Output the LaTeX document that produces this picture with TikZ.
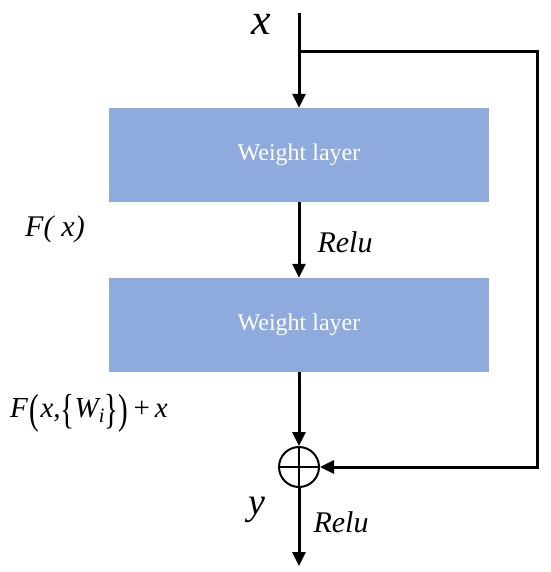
\documentclass[tikz,border=0pt]{standalone}
\usepackage{fontspec}
\usepackage{graphicx}
\setmainfont{LiberationSerif}[Extension=.ttf, UprightFont=*-Regular, ItalicFont=*-Italic, BoldFont=*-Bold, BoldItalicFont=*-BoldItalic]
\usetikzlibrary{arrows.meta}
\definecolor{wlblue}{HTML}{8FAADC}
\newcommand{\tallp}[1]{\raisebox{-0.2em}{\scalebox{1}[1.45]{\upshape #1}}}
\begin{document}
\begin{tikzpicture}[x=1pt,y=-1pt,
  wl/.style={fill=wlblue, minimum width=380pt, minimum height=94pt, inner sep=0pt,
    text=white, font=\fontsize{24}{26}\selectfont},
  conn/.style={line width=3pt, -{Triangle[length=14pt,width=13pt]}},
  lbl/.style={inner sep=0pt, font=\fontsize{30}{32}\selectfont\itshape}]
\useasboundingbox (0,0) rectangle (550,572);
\node[wl] (b1) at (299,155) {Weight layer};
\node[wl] (b2) at (299,325) {Weight layer};
\node[circle, draw, line width=2pt, minimum size=40pt, inner sep=0pt] (sum) at (299,467) {};
\draw[line width=2pt] (sum.west) -- (sum.east);
\draw[line width=2.5pt] (sum.north) -- (sum.south);
\coordinate (in) at (299,13);
\coordinate (br) at (299,52);
\coordinate (tr) at (537,52);
\coordinate (rc) at (537,467);
\coordinate (out) at (299,566);
\draw[conn] (in) -- (b1.north);
\draw[conn, line join=miter] (br) -- (tr) -- (rc) -- (sum.east);
\draw[conn] (b1.south) -- (b2.north);
\draw[conn] (b2.south) -- (sum.north);
\draw[conn] (sum.south) -- (out);
\node[lbl, font=\fontsize{44}{46}\selectfont\itshape] (xl) at (261,24) {x};
\node[lbl] (r1) at (345,242) {Relu};
\node[lbl] (r2) at (341,522) {Relu};
\node[lbl, font=\fontsize{38}{40}\selectfont\itshape] (yl) at (257,510) {y};
\node[lbl] (fx) at (55,229) {F(\kern8pt x)};
\node[lbl, font=\fontsize{29}{32}\selectfont\itshape] (fw) at (89,413) {F\kern2pt\tallp{(}\kern1pt x,\tallp{\{}W\textsubscript{i}\tallp{\}}\tallp{)}\kern5pt{\upshape +}\kern5pt x};
\end{tikzpicture}
\end{document}
